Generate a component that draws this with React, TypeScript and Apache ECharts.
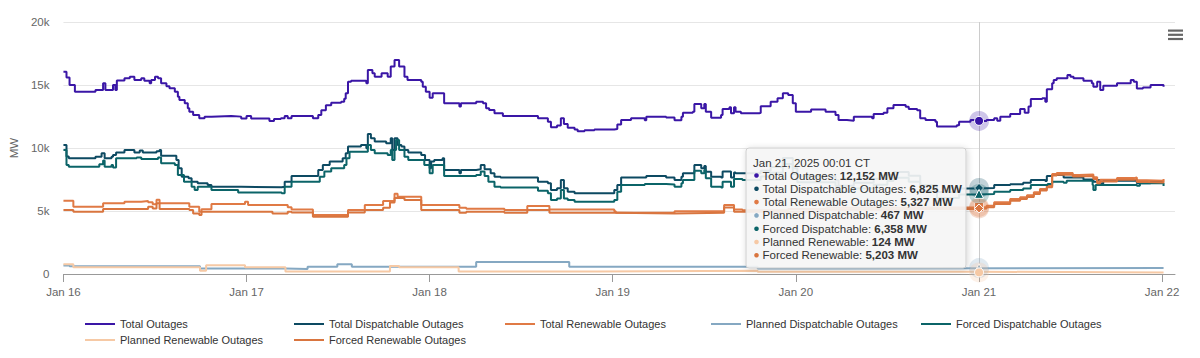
import React, { useEffect, useRef } from "react";
import * as echarts from "echarts";

const FONT = "'Liberation Sans', Arial, Helvetica, sans-serif";

// x values are hours since Jan 16 00:00
const DAY_TICKS = [0, 24, 48, 72, 96, 120, 144];
const DAY_LABELS = ["Jan 16", "Jan 17", "Jan 18", "Jan 19", "Jan 20", "Jan 21", "Jan 22"];

const SERIES_NAMES = [
  "Total Outages",
  "Total Dispatchable Outages",
  "Total Renewable Outages",
  "Planned Dispatchable Outages",
  "Forced Dispatchable Outages",
  "Planned Renewable Outages",
  "Forced Renewable Outages",
];
const SERIES_COLORS = ["#3a16a6", "#0d4a62", "#e07a45", "#85a8c2", "#0b6468", "#f6c9a5", "#d9753f"];
const SERIES_SYMBOLS = ["circle", "diamond", "rect", "triangle", "triangle", "circle", "diamond"];

const totalOutages: [number, number][] = [
  [0,16060],[0.4,15600],[0.8,15000],[1.5,14470],[4.2,14600],[5.2,15130],[5.5,14600],[6.5,15000],[6.8,14600],[7,15350],
  [8,15530],[8.7,15660],[9.3,15400],[10.2,15530],[10.6,15340],[11.3,15130],[11.5,15400],[12,15660],[12.4,15530],[12.8,15130],
  [13.5,14900],[13.9,14740],[14.6,14470],[15,14070],[15.2,13810],[15.9,13545],[16.3,13150],[16.5,12880],[17,12620],[17.8,12360],
  [18.5,12490],[19.4,12540],[22,12490],[23.3,12350],[24,12540],[24.6,12350],[27,12140],[27.6,12300],[28.5,12360],[29,12540],
  [29.4,12360],[29.9,12540],[32.7,12360],[33.4,12620],[33.8,13000],[34.4,13400],[35.1,13600],[36.4,13680],[36.8,13900],[37,14340],
  [37.3,15260],[37.7,15340],[39.7,15130],[39.9,16190],[40.5,15925],[40.8,15660],[41.7,15925],[42.5,15660],[42.9,16460],[43.4,16985],
  [44,16460],[44.7,15660],[45.1,15400],[46.9,15264],[47.1,14870],[47.5,14470],[48,13980],[48.4,14340],[49.9,13545],[51.9,13300],
  [52.1,13545],[54.1,13680],[55,13545],[55.4,13150],[55.8,13010],[56.5,12750],[57.6,12540],[62.2,12355],[63.5,12090],[63.9,11640],
  [64.7,11780],[65.2,12355],[65.6,11900],[66.1,11600],[67,11460],[67.4,11330],[68.3,11400],[69.6,11460],[72.2,11500],[72.6,11870],
  [73.1,12220],[74.4,12355],[76.2,12200],[76.4,12490],[79,12420],[80.1,12200],[81,12490],[81.2,12800],[82.5,12880],[82.7,13500],
  [83.6,13150],[84,13500],[84.2,12880],[84.9,12400],[86.2,12620],[86.4,13100],[87.3,13230],[87.5,12750],[87.9,13230],[88.1,12880],
  [88.8,12750],[91.2,12800],[91.4,13310],[92.7,13680],[93.6,13940],[94.3,14340],[95,14200],[95.6,13545],[96,12880],[98,13050],
  [99.9,12880],[101.2,12620],[101.6,12220],[102.7,12170],[103.6,12490],[106,12355],[106.2,12700],[107.5,12800],[108,13150],[108.8,13410],
  [110.4,13280],[110.8,13100],[111.9,13000],[112.3,12355],[113,12220],[114.3,12090],[114.5,11700],[117.1,11800],[117.4,12090],[118.9,12220],
  [120,12152],[121,12220],[122,12355],[122.4,12170],[122.8,12490],[124.1,12700],[125.4,13100],[126,12800],[126.5,13300],[126.8,13880],
  [128.3,13940],[128.7,13680],[128.9,14660],[129.6,15130],[129.8,15400],[130.2,15530],[131.6,15790],[132,15660],[132.4,15530],[133.7,15340],
  [134.8,15130],[135,14870],[135.5,15264],[135.9,14600],[136.3,14950],[138.1,15130],[139.9,15400],[140.3,15260],[140.7,14730],[141.5,14800],
  [142.5,15000],[144.2,14870],
];

const totalDispatchable: [number, number][] = [
  [0,10240],[0.4,9320],[0.7,9180],[4.2,9313],[5,9578],[5.4,9180],[6.3,9313],[6.5,9450],[6.9,9650],[8,9842],
  [9.3,9650],[10,9800],[10.4,9650],[12.2,9750],[12.6,9842],[12.8,9390],[14.8,9048],[15.1,8390],[15.5,7725],[16.4,7600],
  [16.8,7330],[17.6,7200],[18.9,7064],[19.4,6930],[23.3,6880],[28.6,6930],[29,7330],[29.9,7780],[33.2,7780],[33.4,8260],
  [34,8660],[34.9,8920],[36.6,9180],[37,9578],[37.3,10110],[39,10240],[39.7,9980],[39.9,11110],[40.3,10770],[40.8,10510],
  [42.3,10370],[42.9,10770],[43.1,9840],[43.4,10770],[43.8,10240],[44.3,10110],[44.7,9842],[45.2,9650],[46.9,9450],[47.4,9048],
  [48,8390],[48.2,8920],[48.6,9048],[49.7,9180],[49.9,8260],[51.9,8000],[52.1,8260],[54.1,8310],[54.7,8650],[55.2,8310],
  [56,7990],[56.5,7725],[57.3,7650],[61.7,7660],[62.2,7330],[63.5,7200],[63.9,6667],[64.7,6800],[65.2,7460],[65.6,6800],
  [66.1,6530],[67,6400],[72.2,6667],[72.6,7064],[73.1,7660],[76.4,7780],[79,7660],[80.1,7460],[81,7720],[81.2,7990],
  [82.7,8660],[83.6,8390],[84,8570],[84.2,8120],[84.9,7725],[86.2,7660],[86.4,8130],[87.5,7660],[87.9,8060],[88.1,7990],
  [91.4,8200],[92.7,8500],[94.3,9200],[95.6,8400],[96.2,7750],[101.2,7450],[101.6,7000],[103.6,7250],[106.2,7550],[108,7850],
  [108.8,8100],[110.8,7800],[112.3,7050],[114.5,6500],[117.4,6780],[120,6825],[122,7060],[124.1,7120],[125.8,7250],[126.8,7460],
  [128.7,7390],[128.9,7780],[129.6,7850],[131.1,7650],[133.7,7500],[135,7330],[135.5,7460],[135.9,7180],[136.3,7400],[140.3,7450],
  [140.7,7200],[142.5,7330],[144.2,7355],
];

const totalRenewable: [number, number][] = [
  [0,5820],[1.3,5340],[5.2,5610],[8,5740],[10.2,5790],[11.1,5700],[11.7,5540],[12.2,5900],[12.6,5610],[16.5,5340],
  [17.8,4950],[18.1,5140],[19.4,5560],[23.8,5740],[24.2,5480],[29.4,5300],[29.9,5120],[32.7,4680],[37.3,5080],[39.5,5480],
  [41.9,5800],[43.4,6360],[43.8,6140],[46.9,5480],[51.9,5260],[52.8,5180],[57.8,5070],[60.8,5390],[63.7,5120],[72.2,4990],
  [72.4,4860],[80.1,4990],[86.6,5480],[87.9,5120],[89,5060],[95,5150],[100,5250],[110,5300],[120,5327],[121,5420],
  [122,5690],[124.1,5950],[125.4,6090],[126.3,6250],[127.2,6480],[128,6750],[128.9,7010],[129.6,7940],[130.2,8010],[132.3,7860],
  [133.1,7900],[135,7670],[135.5,7330],[135.9,7480],[138.1,7610],[140.3,7650],[140.7,7440],[142,7400],[144.2,7530],
];

const plannedDispatchable: [number, number][] = [
  [0,683],[0.8,620],[17.9,430],[29.1,400],[32,570],[35.9,770],[37.8,570],[54.1,960],[66.3,580],[91,430],[100,467],[144.2,480],
];

const forcedDispatchable: [number, number][] = [
  [0,9840],[0.4,8650],[0.7,8520],[4.7,8720],[5.2,9000],[5.4,8520],[6.3,8650],[6.5,8450],[6.9,9180],[9.6,9250],
  [10.2,9120],[12.4,9250],[12.8,8780],[14.6,8650],[15,7860],[15.8,7330],[16.8,6930],[17.2,6667],[17.6,6930],[19.4,6667],
  [22.9,6460],[28.6,6400],[29,6930],[29.9,7330],[33.2,7330],[33.6,7725],[34.2,8130],[35.1,8390],[36.8,8650],[37.1,9180],
  [37.5,9710],[39.5,9710],[39.9,10240],[40.3,9842],[40.8,9578],[42.5,9450],[42.9,9842],[43.1,9050],[43.4,9842],[43.6,10640],
  [44,9842],[44.7,9313],[45.2,9050],[47.3,8650],[48,8000],[48.4,8650],[49.9,7780],[54.1,7860],[54.7,8130],[55.2,7780],
  [55.7,7330],[56.5,6930],[57.3,6860],[62.2,6600],[63.5,6400],[63.9,5870],[64.7,6000],[65.2,6667],[65.6,6000],[66.1,5870],
  [67,5740],[72.2,5870],[72.6,6530],[73.1,7064],[76.2,7150],[79,7100],[80.1,6930],[81,7200],[81.2,7460],[82.7,8200],
  [83.6,7990],[84,8260],[84.2,7600],[84.9,6930],[86.2,6860],[86.4,7330],[87.5,6930],[87.9,7530],[89,7460],[91.4,7730],
  [92.7,8030],[94.3,8730],[95.6,7930],[96.2,7280],[101.2,6980],[101.6,6530],[103.6,6780],[106.2,7080],[108,7380],[108.8,7630],
  [110.8,7330],[112.3,6580],[114.5,6030],[117.4,6310],[120,6358],[122,6530],[124.1,6660],[125.8,6790],[126.8,7064],[129,7150],
  [129.6,7330],[131.1,7250],[131.5,7400],[134.9,7064],[135,6667],[135.3,7064],[140.7,7000],[141.1,7200],[144.2,6985],
];

const plannedRenewable: [number, number][] = [
  [0,770],[1.3,540],[17.9,260],[18.7,685],[23.8,540],[29.1,200],[42.8,630],[44,540],[51.8,200],[70,250],[91,180],[120,124],[144.2,124],
];

const forcedRenewable: [number, number][] = [
  [0,5080],[1.3,4950],[5.2,5150],[11.1,5340],[11.7,5200],[12.2,5610],[12.6,5150],[16.5,5080],[17,4810],[17.8,4680],
  [18.1,4950],[27,4950],[27.4,4810],[29.4,4950],[29.9,4880],[32.7,4550],[37.3,4880],[39.5,5080],[41.9,5250],[42.8,5670],
  [43.4,6040],[44.7,5870],[46.9,5080],[51.9,4860],[52.8,4950],[57.8,4860],[60.8,5080],[63.7,4860],[72.2,4860],[72.4,4810],
  [80.1,4860],[86.6,5280],[87.9,4950],[95,4980],[100,5100],[110,5160],[120,5203],[121,5290],[122,5560],[124.1,5820],
  [125.4,5960],[126.3,6120],[127.2,6350],[128,6620],[128.9,6880],[129.6,7810],[130.2,7880],[132.3,7730],[133.1,7780],[135,7540],
  [135.5,7200],[135.9,7350],[138.1,7480],[140.3,7520],[140.7,7310],[142,7270],[144.2,7400],
];

const SERIES_DATA = [
  totalOutages, totalDispatchable, totalRenewable, plannedDispatchable,
  forcedDispatchable, plannedRenewable, forcedRenewable,
];

const HOVER_HOUR = 120.017;
const HOVER_TITLE = "Jan 21, 2025 00:01 CT";
const HOVER_LABELS = [
  "Total Outages", "Total Dispatchable Outages", "Total Renewable Outages",
  "Planned Dispatchable", "Forced Dispatchable", "Planned Renewable", "Forced Renewable",
];
const HOVER_VALUES = [12152, 6825, 5327, 467, 6358, 124, 5203];

const LEGEND_POS: [number, number][] = [
  [85, 317], [294, 317], [505, 317], [711, 317], [921, 317], [85, 333], [294, 333],
];

export default function App() {
  const ref = useRef<HTMLDivElement>(null);

  useEffect(() => {
    if (!ref.current) return;
    const chart = echarts.init(ref.current, undefined, { renderer: "svg" });

    const series: any[] = SERIES_NAMES.map((name, i) => ({
      name,
      type: "line",
      step: "end",
      data: SERIES_DATA[i],
      showSymbol: false,
      symbol: "none",
      silent: true,
      lineStyle: { color: SERIES_COLORS[i], width: 2 },
      itemStyle: { color: SERIES_COLORS[i] },
      markPoint: {
        silent: true,
        label: { show: false },
        animation: false,
        data: [
          {
            coord: [HOVER_HOUR, HOVER_VALUES[i]],
            symbol: "circle",
            symbolSize: 20,
            itemStyle: { color: SERIES_COLORS[i], opacity: 0.25 },
          },
          {
            coord: [HOVER_HOUR, HOVER_VALUES[i]],
            symbol: SERIES_SYMBOLS[i],
            symbolSize: 9,
            itemStyle: { color: SERIES_COLORS[i], borderColor: "#ffffff", borderWidth: 1 },
          },
        ],
      },
    }));

    // crosshair
    series[0].markLine = {
      silent: true,
      symbol: ["none", "none"],
      label: { show: false },
      animation: false,
      lineStyle: { color: "#cccccc", width: 1, type: "solid" },
      data: [{ xAxis: HOVER_HOUR }],
    };

    const legends = SERIES_NAMES.map((name, i) => ({
      data: [name],
      left: LEGEND_POS[i][0],
      top: LEGEND_POS[i][1],
      padding: 0,
      icon: "rect",
      itemWidth: 30,
      itemHeight: 2,
      selectedMode: false,
      textStyle: { color: "#333333", fontSize: 11, fontFamily: FONT, lineHeight: 14 },
    }));

    const TZ = 1000;
    const lineY0 = 175.5;
    const lineStep = 13.3;
    const tooltipChildren: any[] = [
      {
        type: "rect",
        z: TZ,
        shape: { x: 746, y: 148, width: 220, height: 120, r: 3 },
        style: {
          fill: "rgba(247,247,247,0.9)",
          stroke: "#cfcfcf",
          lineWidth: 1,
          shadowBlur: 6,
          shadowColor: "rgba(0,0,0,0.18)",
          shadowOffsetX: 1,
          shadowOffsetY: 1,
        },
      },
      {
        type: "text",
        z: TZ + 1,
        x: 753,
        y: 162.5,
        style: {
          text: HOVER_TITLE,
          fill: "#333333",
          fontSize: 11.5,
          fontFamily: FONT,
          verticalAlign: "middle",
        },
      },
    ];
    HOVER_LABELS.forEach((label, i) => {
      const cy = lineY0 + i * lineStep;
      tooltipChildren.push({
        type: "circle",
        z: TZ + 1,
        shape: { cx: 756.5, cy, r: 2.3 },
        style: { fill: SERIES_COLORS[i] },
      });
      tooltipChildren.push({
        type: "text",
        z: TZ + 1,
        x: 762.5,
        y: cy,
        style: {
          text: `{a|${label}: }{b|${HOVER_VALUES[i].toLocaleString("en-US")} MW}`,
          verticalAlign: "middle",
          rich: {
            a: { fontSize: 11.5, fill: "#333333", fontFamily: FONT },
            b: { fontSize: 11.5, fill: "#333333", fontFamily: FONT, fontWeight: "bold" },
          },
        },
      });
    });

    const option: any = {
      animation: false,
      backgroundColor: "#ffffff",
      textStyle: { fontFamily: FONT },
      grid: { left: 62, right: 25, top: 22, bottom: 84, containLabel: false },
      legend: legends,
      xAxis: {
        type: "value",
        min: 0,
        max: 145.7,
        axisLine: { show: true, lineStyle: { color: "#999999", width: 1 } },
        axisTick: {
          show: true,
          customValues: DAY_TICKS,
          length: 8,
          lineStyle: { color: "#999999", width: 1 },
        },
        axisLabel: {
          customValues: DAY_TICKS,
          formatter: (v: number) => DAY_LABELS[Math.round(v / 24)] ?? "",
          color: "#666666",
          fontSize: 11.5,
          fontFamily: FONT,
          margin: 12,
        },
        splitLine: { show: false },
      },
      yAxis: {
        type: "value",
        min: 0,
        max: 20000,
        interval: 5000,
        name: "MW",
        nameLocation: "middle",
        nameGap: 38,
        nameTextStyle: { color: "#666666", fontSize: 11.5, fontFamily: FONT },
        axisLine: { show: false },
        axisTick: { show: false },
        axisLabel: {
          color: "#666666",
          fontSize: 11.5,
          fontFamily: FONT,
          margin: 14,
          formatter: (v: number) => (v === 0 ? "0" : `${v / 1000}k`),
        },
        splitLine: { lineStyle: { color: "#e6e6e6", width: 1 } },
      },
      series,
      graphic: [
        ...tooltipChildren,
        ...[0, 1, 2].map((k) => ({
          type: "rect",
          z: TZ,
          shape: { x: 1168, y: 29.5 + k * 4.2, width: 15, height: 2.2 },
          style: { fill: "#666666" },
        })),
      ],
    };

    chart.setOption(option);
    return () => chart.dispose();
  }, []);

  return (
    <div
      ref={ref}
      style={{ position: "fixed", left: 0, top: 0, width: 1200, height: 358, background: "#fff" }}
    />
  );
}
